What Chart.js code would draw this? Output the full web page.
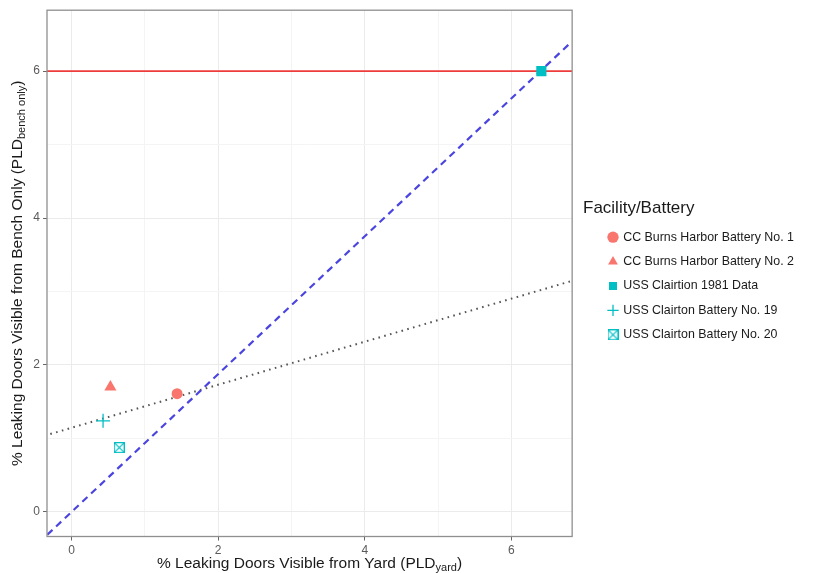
<!DOCTYPE html>
<html>
<head>
<meta charset="utf-8">
<script src="https://cdn.jsdelivr.net/npm/chart.js@4.4.0/dist/chart.umd.min.js"></script>
<style>
  html, body { margin: 0; padding: 0; background: #fff; }
</style>
</head>
<body>
<canvas id="canvas" width="817" height="573"></canvas>
<script>
// axis ranges (ggplot pads 5% around the data)
const xLimits = [-0.335, 6.83];
const yLimits = [-0.335, 6.83];
const majorTicks = [0, 2, 4, 6];
const minorTicks = [1, 3, 5];
const tickLabels = ["0", "2", "4", "6"];

// one point per battery
const batteries = [
  "CC Burns Harbor Battery No. 1",
  "CC Burns Harbor Battery No. 2",
  "USS Clairtion 1981 Data",
  "USS Clairton Battery No. 19",
  "USS Clairton Battery No. 20"
];
const pointX = [1.44, 0.53, 6.41, 0.43, 0.65];
const pointY = [1.61, 1.70, 6.00, 1.24, 0.875];

// reference lines
const limitX = [-0.335, 6.83];
const limitY = [6, 6];
const diagX = [-0.33, 6.78];
const diagY = [-0.31, 6.36];
const fitX = [-0.29, 6.81];
const fitY = [1.06, 3.14];

const legendTitle = "Facility/Battery";
const xTitle = [["% Leaking Doors Visible from Yard (PLD", false], ["yard", true], [")", false]];
const yTitle = [["% Leaking Doors Visible from Bench Only (PLD", false], ["bench only", true], [")", false]];

const red = "#F8766D";
const teal = "#00BFC4";
const FONT = "'Liberation Sans', Arial, sans-serif";
const PLOT_RIGHT = 571.5;

Chart.defaults.font.family = FONT;

// ggplot shape 7: square with a cross inside
const squareCross = document.createElement("canvas");
squareCross.width = 11;
squareCross.height = 11;
(() => {
  const c = squareCross.getContext("2d");
  c.strokeStyle = teal;
  c.lineWidth = 1.2;
  c.strokeRect(0.6, 0.6, 9.8, 9.8);
  c.beginPath();
  c.moveTo(0.6, 0.6); c.lineTo(10.4, 10.4);
  c.moveTo(10.4, 0.6); c.lineTo(0.6, 10.4);
  c.stroke();
})();

const shapes = [
  { pointStyle: "circle", radius: 5.5, color: red, border: 0 },
  { pointStyle: "triangle", radius: 7, color: red, border: 0 },
  { pointStyle: "rect", radius: 7.2, color: teal, border: 0 },
  { pointStyle: "cross", radius: 7, color: teal, border: 1.3 },
  { pointStyle: squareCross, radius: 6, color: teal, border: 0 }
];

const pairs = (xs, ys) => xs.map((x, i) => ({ x: x, y: ys[i] }));

const pointSets = batteries.map((name, i) => ({
  label: name,
  data: [{ x: pointX[i], y: pointY[i] }],
  pointStyle: shapes[i].pointStyle,
  pointRadius: shapes[i].radius,
  backgroundColor: shapes[i].color,
  borderColor: shapes[i].color,
  borderWidth: shapes[i].border,
  order: 0
}));

const lineSet = (label, data, color, width, dash) => ({
  label: label,
  data: data,
  showLine: true,
  pointRadius: 0,
  borderColor: color,
  borderWidth: width,
  borderDash: dash,
  fill: false,
  order: 1
});

const isMajor = (v) => majorTicks.includes(v);

const scaleOpts = (limits, fit) => ({
  type: "linear",
  min: limits[0],
  max: limits[1],
  afterBuildTicks: (s) => {
    s.ticks = majorTicks.concat(minorTicks).sort((a, b) => a - b).map(v => ({ value: v }));
  },
  afterFit: fit,
  ticks: {
    autoSkip: false,
    maxRotation: 0,
    padding: 3,
    color: "#5a5a5a",
    font: { size: 12 },
    callback: (v) => isMajor(v) ? tickLabels[majorTicks.indexOf(v)] : ""
  },
  grid: {
    lineWidth: 1,
    tickLength: 4,
    color: (ctx) => ctx.tick && isMajor(ctx.tick.value) ? "#EBEBEB" : "#F4F4F4",
    tickColor: (ctx) => ctx.tick && isMajor(ctx.tick.value) ? "#666666" : "rgba(0,0,0,0)"
  },
  border: { display: false },
  title: { display: false }
});

const drawRich = (ctx, parts, cx, cy) => {
  const main = "15.5px " + FONT;
  const sub = "11px " + FONT;
  let total = 0;
  parts.forEach(([t, s]) => { ctx.font = s ? sub : main; total += ctx.measureText(t).width; });
  let x = cx - total / 2;
  ctx.textAlign = "left";
  ctx.textBaseline = "middle";
  parts.forEach(([t, s]) => {
    ctx.font = s ? sub : main;
    ctx.fillText(t, x, s ? cy + 4 : cy);
    x += ctx.measureText(t).width;
  });
};

const decor = {
  id: "decor",
  afterLayout(chart) {
    // move the legend block to where ggplot puts it
    const lg = chart.legend;
    lg.left = 597; lg.right = chart.width; lg.width = lg.right - lg.left;
    lg.top = 219; lg.bottom = chart.height; lg.height = lg.bottom - lg.top;
  },
  afterDraw(chart) {
    const { ctx, chartArea: a } = chart;
    ctx.save();
    ctx.strokeStyle = "#8f8f8f";
    ctx.lineWidth = 1.3;
    ctx.strokeRect(a.left, a.top, a.right - a.left, a.bottom - a.top);
    ctx.fillStyle = "#1a1a1a";
    drawRich(ctx, xTitle, (a.left + a.right) / 2, 564);
    ctx.save();
    ctx.translate(18, (a.top + a.bottom) / 2);
    ctx.rotate(-Math.PI / 2);
    drawRich(ctx, yTitle, 0, 0);
    ctx.restore();
    ctx.font = "17px " + FONT;
    ctx.textAlign = "left";
    ctx.textBaseline = "middle";
    ctx.fillText(legendTitle, 583, 208);
    ctx.restore();
  }
};

const chart = new Chart(document.getElementById("canvas").getContext("2d"), {
  type: "scatter",
  data: {
    datasets: pointSets.concat([
      lineSet("limit", pairs(limitX, limitY), "#EE3B3B", 1.6, []),
      lineSet("one-to-one", pairs(diagX, diagY), "#4B45E0", 2.2, [7, 5]),
      lineSet("fit", pairs(fitX, fitY), "#555555", 2, [1.6, 4.4])
    ])
  },
  options: {
    responsive: false,
    animation: false,
    layout: { padding: { top: 10, right: 0, bottom: 0, left: 0 } },
    scales: {
      x: scaleOpts(xLimits, (s) => { s.height = 36.5; }),
      y: scaleOpts(yLimits, (s) => { s.width = 47; })
    },
    plugins: {
      tooltip: { enabled: false },
      legend: {
        position: "right",
        align: "start",
        title: { display: false },
        labels: {
          usePointStyle: true,
          boxWidth: 8,
          boxHeight: 8,
          padding: 12,
          color: "#1a1a1a",
          font: { size: 12.4 },
          filter: (item) => item.datasetIndex < batteries.length
        }
      }
    }
  },
  plugins: [decor]
});

// nudge the right padding until the panel ends where the reference panel ends
for (let i = 0; i < 3; i++) {
  const pad = chart.options.layout.padding;
  pad.right = Math.max(0, pad.right + chart.chartArea.right - PLOT_RIGHT);
  chart.update("none");
}
</script>
</body>
</html>
